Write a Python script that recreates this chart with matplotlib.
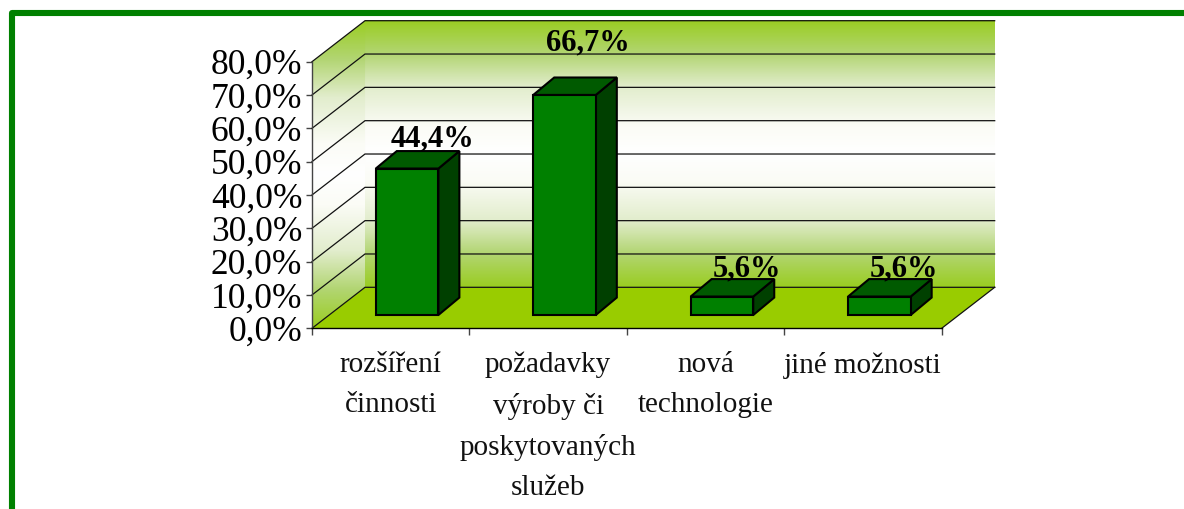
import numpy as np
import matplotlib
matplotlib.use('Agg')
import matplotlib.pyplot as plt
from matplotlib.colors import LinearSegmentedColormap
from matplotlib.lines import Line2D
from matplotlib.patches import Polygon

categories = ['rozšíření\nčinnosti', 'požadavky\nvýroby či\nposkytovaných\nslužeb',
              'nová\ntechnologie', 'jiné možnosti']
values = [44.4, 66.7, 5.6, 5.6]
value_labels = ['44,4%', '66,7%', '5,6%', '5,6%']
y_ticks = [0, 10, 20, 30, 40, 50, 60, 70, 80]
y_tick_labels = ['0,0%', '10,0%', '20,0%', '30,0%', '40,0%', '50,0%', '60,0%', '70,0%', '80,0%']

W, H = 1184, 509
# how far the back wall is pushed away, in data units
DX = 0.3367
DY = 12.3
BAR_NEAR = 0.324
BAR_FAR = 0.75
BAR_W = 0.3975
LABEL_PAD = [12.3, 18.8, 12.3, 12.3]
LABEL_X = [0.765, 0.75, 0.765, 0.76]

plt.rcParams['font.family'] = ['Liberation Serif', 'DejaVu Serif']

fig = plt.figure(figsize=(W / 100, H / 100), dpi=100, facecolor='white')
ax = fig.add_axes([312 / W, (H - 328.3) / H, 629.7 / W, 266.6 / H])
ax.patch.set_visible(False)

cmap = LinearSegmentedColormap.from_list('wall', [
    (0, '#9acd22'), (0.125, '#b2d572'), (0.25, '#e2edcd'), (0.4, '#fbfcf6'), (0.5, '#ffffff'),
    (0.6, '#fbfcf6'), (0.75, '#e2edcd'), (0.875, '#b2d572'), (1, '#9acd22')])
grad = np.linspace(0, 1, 256).reshape(-1, 1)

# back wall
back = ax.imshow(grad, cmap=cmap, aspect='auto', origin='upper', zorder=1,
                 extent=(DX, 4 + DX, DY, 80 + DY))
back.set_clip_on(False)
# side wall
side = Polygon([(0, 0), (DX, DY), (DX, 80 + DY), (0, 80)], closed=True, transform=ax.transData,
               fc='none', ec='none', clip_on=False)
ax.add_patch(side)
im = ax.imshow(grad, cmap=cmap, aspect='auto', origin='upper', zorder=1,
               extent=(0, DX, 0, 80 + DY))
im.set_clip_box(fig.bbox)
im.set_clip_path(side)

# floor
ax.add_patch(Polygon([(0, 0), (4, 0), (4 + DX, DY), (DX, DY)], closed=True, fc='#99cc00',
                     ec='none', zorder=2, clip_on=False))

for v in y_ticks:
    ax.plot([0, DX, 4 + DX], [v, v + DY, v + DY], color='#111111', lw=0.9, zorder=3,
            clip_on=False, solid_joinstyle='miter')
ax.plot([4, 4 + DX], [0, DY], color='#111111', lw=0.9, zorder=3, clip_on=False)

# bars
for i, v in enumerate(values):
    x0 = i + 0.5 - BAR_W / 2 + BAR_NEAR * DX - 0.005
    x1 = x0 + BAR_W
    y0 = BAR_NEAR * DY
    h = v * 0.99
    off_x = (BAR_FAR - BAR_NEAR) * DX * 0.93
    off_y = (BAR_FAR - BAR_NEAR) * DY
    kw = dict(closed=True, ec='black', lw=1.5, zorder=4 + i, joinstyle='miter', clip_on=False)
    ax.add_patch(Polygon([(x1, y0), (x1 + off_x, y0 + off_y), (x1 + off_x, y0 + h + off_y),
                          (x1, y0 + h)], fc='#004000', **kw))
    ax.add_patch(Polygon([(x0, y0 + h), (x1, y0 + h), (x1 + off_x, y0 + h + off_y),
                          (x0 + off_x, y0 + h + off_y)], fc='#005a00', **kw))
    ax.add_patch(Polygon([(x0, y0), (x1, y0), (x1, y0 + h), (x0, y0 + h)], fc='#008000', **kw))
    ax.text(i + LABEL_X[i], v + LABEL_PAD[i], value_labels[i], ha='center', va='center',
            fontsize=22, fontweight='bold', color='black', zorder=10)

ax.set_xlim(0, 4)
ax.set_ylim(0, 80)
for s in ['top', 'right']:
    ax.spines[s].set_visible(False)
ax.spines['left'].set_color('#444444')
ax.spines['left'].set_linewidth(1.0)
ax.spines['bottom'].set_color('black')
ax.spines['bottom'].set_linewidth(1.0)
ax.spines['left'].set_zorder(3.5)
ax.spines['bottom'].set_zorder(3.5)

ax.set_yticks(y_ticks)
ax.set_yticklabels(y_tick_labels, fontsize=25.5, color='black')
ax.tick_params(axis='y', length=4, width=1, color='#444444', pad=3)
ax.set_xticks([0, 1, 2, 3, 4])
ax.set_xticklabels([])
ax.tick_params(axis='x', which='major', length=5, width=1, color='#444444')
ax.set_xticks([0.5, 1.5, 2.5, 3.5], minor=True)
ax.set_xticklabels(categories, minor=True, fontsize=21, linespacing=1.68, color='#111111')
ax.tick_params(axis='x', which='minor', length=0, pad=17)

# page border
fig.add_artist(Line2D([12 / W, 12 / W, 1], [0, (H - 13) / H, (H - 13) / H], color='#008000',
                      lw=4.4, solid_joinstyle='round'))

fig.savefig('out.png', dpi=100)
